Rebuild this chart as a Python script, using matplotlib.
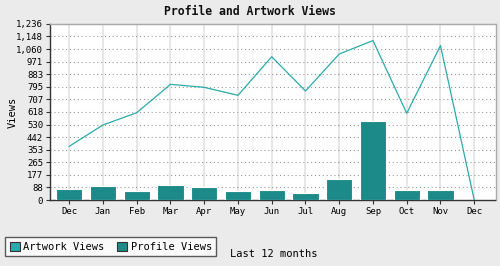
import numpy as np
import matplotlib
matplotlib.use("Agg")
import matplotlib.pyplot as plt
from matplotlib.patches import Patch

# data
months = ['Dec', 'Jan', 'Feb', 'Mar', 'Apr', 'May', 'Jun',
          'Jul', 'Aug', 'Sep', 'Oct', 'Nov', 'Dec']
artwork_views = [377, 527, 613, 812, 791, 735, 1006, 765, 1025, 1119, 609, 1084, 0]
profile_views = [79, 96, 61, 103, 89, 61, 72, 51, 150, 552, 72, 72, 0]
y_ticks = [0, 88, 177, 265, 353, 442, 530, 618, 707, 795, 883, 971, 1060, 1148, 1236]

line_color = '#2aabab'
bar_color = '#1d8a8a'
bg = '#ebebeb'

plt.rcParams['font.family'] = 'DejaVu Sans Mono'

fig = plt.figure(figsize=(5, 2.66), dpi=100, facecolor=bg)
ax = fig.add_axes([0.1, 0.248, 0.891, 0.662])
ax.set_facecolor('white')

x = np.arange(len(months))
ax.bar(x, profile_views, width=0.78, color=bar_color, edgecolor='white',
       linewidth=0.8, zorder=3)
ax.plot(x, artwork_views, color=line_color, linewidth=0.9, zorder=4)

ax.set_xlim(-0.57, 12.63)
ax.set_ylim(0, 1236)
ax.set_xticks(x)
ax.set_xticklabels(months)
ax.set_yticks(y_ticks)
ax.set_yticklabels([f'{v:,}' for v in y_ticks])
ax.tick_params(labelsize=6.5, length=3, width=0.8, color='#333333', pad=2)

ax.xaxis.grid(True, color='#e3e3e3', linewidth=1.2, linestyle='-', zorder=0)
ax.yaxis.grid(True, color='#999999', linewidth=0.8, linestyle=(0, (1, 2.5)), zorder=1)
ax.set_axisbelow(True)

for side in ['top', 'right']:
    ax.spines[side].set_color('#aaaaaa')
    ax.spines[side].set_linewidth(1)
for side in ['left', 'bottom']:
    ax.spines[side].set_color('#333333')
    ax.spines[side].set_linewidth(1)

ax.set_ylabel('Views', fontsize=7.5)
ax.yaxis.set_label_coords(-0.072, 0.5)
fig.text(0.5, 0.955, 'Profile and Artwork Views', ha='center', va='center',
         fontsize=8.3, fontweight='bold', color='#111111')

handles = [Patch(facecolor=line_color, edgecolor='#333333', linewidth=0.8),
           Patch(facecolor=bar_color, edgecolor='#333333', linewidth=0.8)]
leg = fig.legend(handles, ['Artwork Views', 'Profile Views'], loc='lower left',
                 bbox_to_anchor=(0.01, 0.036), ncol=2, fontsize=7.5,
                 frameon=True, fancybox=False, edgecolor='#333333',
                 handlelength=1.0, handleheight=1.0, handletextpad=0.3,
                 columnspacing=1.2, borderpad=0.45, borderaxespad=0)
leg.get_frame().set_linewidth(1)

fig.text(0.46, 0.045, 'Last 12 months', ha='left', va='center', fontsize=7.5)

fig.savefig('out.png', dpi=100, facecolor=bg)
